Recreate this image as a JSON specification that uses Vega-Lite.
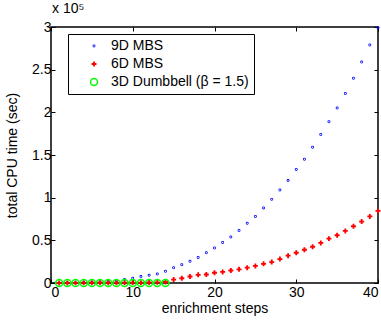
{
  "$schema": "https://vega.github.io/schema/vega-lite/v6.json",
  "width": 327,
  "height": 256,
  "autosize": "none",
  "padding": {"left": 51, "top": 27, "right": 3, "bottom": 37},
  "background": "white",
  "title": {
    "text": "x 10⁵",
    "anchor": "start",
    "frame": "group",
    "fontSize": 14,
    "fontWeight": "normal",
    "font": "Liberation Sans",
    "color": "black",
    "offset": 4,
    "dx": 1
  },
  "config": {
    "font": "Liberation Sans",
    "view": {"stroke": "black", "strokeWidth": 1.5},
    "axis": {
      "labelFont": "Liberation Sans",
      "labelFontSize": 14,
      "labelColor": "black",
      "titleFont": "Liberation Sans",
      "titleFontSize": 14,
      "titleFontWeight": "normal",
      "titleColor": "black",
      "grid": false,
      "domain": false,
      "tickColor": "black",
      "tickSize": -4,
      "tickWidth": 1
    }
  },
  "data": {
    "values": [
      {"step": 1, "series": "9D MBS", "cpu_sec": 100},
      {"step": 2, "series": "9D MBS", "cpu_sec": 200},
      {"step": 3, "series": "9D MBS", "cpu_sec": 300},
      {"step": 4, "series": "9D MBS", "cpu_sec": 500},
      {"step": 5, "series": "9D MBS", "cpu_sec": 800},
      {"step": 6, "series": "9D MBS", "cpu_sec": 1200},
      {"step": 7, "series": "9D MBS", "cpu_sec": 1800},
      {"step": 8, "series": "9D MBS", "cpu_sec": 2700},
      {"step": 9, "series": "9D MBS", "cpu_sec": 4000},
      {"step": 10, "series": "9D MBS", "cpu_sec": 5600},
      {"step": 11, "series": "9D MBS", "cpu_sec": 7500},
      {"step": 12, "series": "9D MBS", "cpu_sec": 9200},
      {"step": 13, "series": "9D MBS", "cpu_sec": 10500},
      {"step": 14, "series": "9D MBS", "cpu_sec": 13800},
      {"step": 15, "series": "9D MBS", "cpu_sec": 17800},
      {"step": 16, "series": "9D MBS", "cpu_sec": 21300},
      {"step": 17, "series": "9D MBS", "cpu_sec": 25500},
      {"step": 18, "series": "9D MBS", "cpu_sec": 30000},
      {"step": 19, "series": "9D MBS", "cpu_sec": 35400},
      {"step": 20, "series": "9D MBS", "cpu_sec": 41000},
      {"step": 21, "series": "9D MBS", "cpu_sec": 47500},
      {"step": 22, "series": "9D MBS", "cpu_sec": 54000},
      {"step": 23, "series": "9D MBS", "cpu_sec": 61500},
      {"step": 24, "series": "9D MBS", "cpu_sec": 70000},
      {"step": 25, "series": "9D MBS", "cpu_sec": 78000},
      {"step": 26, "series": "9D MBS", "cpu_sec": 88000},
      {"step": 27, "series": "9D MBS", "cpu_sec": 98000},
      {"step": 28, "series": "9D MBS", "cpu_sec": 109000},
      {"step": 29, "series": "9D MBS", "cpu_sec": 120000},
      {"step": 30, "series": "9D MBS", "cpu_sec": 133000},
      {"step": 31, "series": "9D MBS", "cpu_sec": 145000},
      {"step": 32, "series": "9D MBS", "cpu_sec": 159000},
      {"step": 33, "series": "9D MBS", "cpu_sec": 174000},
      {"step": 34, "series": "9D MBS", "cpu_sec": 189000},
      {"step": 35, "series": "9D MBS", "cpu_sec": 205000},
      {"step": 36, "series": "9D MBS", "cpu_sec": 222000},
      {"step": 37, "series": "9D MBS", "cpu_sec": 240000},
      {"step": 38, "series": "9D MBS", "cpu_sec": 259000},
      {"step": 39, "series": "9D MBS", "cpu_sec": 279000},
      {"step": 40, "series": "9D MBS", "cpu_sec": 299000},
      {"step": 1, "series": "6D MBS", "cpu_sec": 50},
      {"step": 2, "series": "6D MBS", "cpu_sec": 100},
      {"step": 3, "series": "6D MBS", "cpu_sec": 150},
      {"step": 4, "series": "6D MBS", "cpu_sec": 200},
      {"step": 5, "series": "6D MBS", "cpu_sec": 250},
      {"step": 6, "series": "6D MBS", "cpu_sec": 300},
      {"step": 7, "series": "6D MBS", "cpu_sec": 350},
      {"step": 8, "series": "6D MBS", "cpu_sec": 400},
      {"step": 9, "series": "6D MBS", "cpu_sec": 450},
      {"step": 10, "series": "6D MBS", "cpu_sec": 500},
      {"step": 11, "series": "6D MBS", "cpu_sec": 400},
      {"step": 12, "series": "6D MBS", "cpu_sec": 600},
      {"step": 13, "series": "6D MBS", "cpu_sec": 800},
      {"step": 14, "series": "6D MBS", "cpu_sec": 1200},
      {"step": 15, "series": "6D MBS", "cpu_sec": 4000},
      {"step": 16, "series": "6D MBS", "cpu_sec": 5600},
      {"step": 17, "series": "6D MBS", "cpu_sec": 7600},
      {"step": 18, "series": "6D MBS", "cpu_sec": 9600},
      {"step": 19, "series": "6D MBS", "cpu_sec": 10000},
      {"step": 20, "series": "6D MBS", "cpu_sec": 12000},
      {"step": 21, "series": "6D MBS", "cpu_sec": 13000},
      {"step": 22, "series": "6D MBS", "cpu_sec": 14600},
      {"step": 23, "series": "6D MBS", "cpu_sec": 16000},
      {"step": 24, "series": "6D MBS", "cpu_sec": 18000},
      {"step": 25, "series": "6D MBS", "cpu_sec": 20000},
      {"step": 26, "series": "6D MBS", "cpu_sec": 22500},
      {"step": 27, "series": "6D MBS", "cpu_sec": 24500},
      {"step": 28, "series": "6D MBS", "cpu_sec": 28000},
      {"step": 29, "series": "6D MBS", "cpu_sec": 32000},
      {"step": 30, "series": "6D MBS", "cpu_sec": 35500},
      {"step": 31, "series": "6D MBS", "cpu_sec": 39000},
      {"step": 32, "series": "6D MBS", "cpu_sec": 42500},
      {"step": 33, "series": "6D MBS", "cpu_sec": 47000},
      {"step": 34, "series": "6D MBS", "cpu_sec": 52000},
      {"step": 35, "series": "6D MBS", "cpu_sec": 56000},
      {"step": 36, "series": "6D MBS", "cpu_sec": 61000},
      {"step": 37, "series": "6D MBS", "cpu_sec": 66500},
      {"step": 38, "series": "6D MBS", "cpu_sec": 72000},
      {"step": 39, "series": "6D MBS", "cpu_sec": 78000},
      {"step": 40, "series": "6D MBS", "cpu_sec": 84500},
      {"step": 1, "series": "3D Dumbbell (β = 1.5)", "cpu_sec": 10},
      {"step": 2, "series": "3D Dumbbell (β = 1.5)", "cpu_sec": 20},
      {"step": 3, "series": "3D Dumbbell (β = 1.5)", "cpu_sec": 30},
      {"step": 4, "series": "3D Dumbbell (β = 1.5)", "cpu_sec": 40},
      {"step": 5, "series": "3D Dumbbell (β = 1.5)", "cpu_sec": 50},
      {"step": 6, "series": "3D Dumbbell (β = 1.5)", "cpu_sec": 60},
      {"step": 7, "series": "3D Dumbbell (β = 1.5)", "cpu_sec": 70},
      {"step": 8, "series": "3D Dumbbell (β = 1.5)", "cpu_sec": 80},
      {"step": 9, "series": "3D Dumbbell (β = 1.5)", "cpu_sec": 90},
      {"step": 10, "series": "3D Dumbbell (β = 1.5)", "cpu_sec": 100},
      {"step": 11, "series": "3D Dumbbell (β = 1.5)", "cpu_sec": 110},
      {"step": 12, "series": "3D Dumbbell (β = 1.5)", "cpu_sec": 120},
      {"step": 13, "series": "3D Dumbbell (β = 1.5)", "cpu_sec": 130},
      {"step": 14, "series": "3D Dumbbell (β = 1.5)", "cpu_sec": 140}
    ]
  },
  "layer": [
    {
      "mark": {"type": "point", "filled": false, "opacity": 1},
      "encoding": {
        "x": {
          "field": "step",
          "type": "quantitative",
          "scale": {"domain": [0, 40], "nice": false, "zero": false},
          "axis": {"values": [0, 10, 20, 30, 40], "title": "enrichment steps", "labelPadding": 6, "titlePadding": 2}
        },
        "y": {
          "field": "cpu_sec",
          "type": "quantitative",
          "scale": {"domain": [0, 300000], "nice": false},
          "axis": {
            "values": [0, 50000, 100000, 150000, 200000, 250000, 300000],
            "labelExpr": "datum.value / 100000 + ''",
            "title": "total CPU time (sec)",
            "labelPadding": 4,
            "titlePadding": 12
          }
        },
        "color": {
          "field": "series",
          "type": "nominal",
          "scale": {
            "domain": ["9D MBS", "6D MBS", "3D Dumbbell (β = 1.5)"],
            "range": ["#0000ff", "#ff0000", "#00ff00"]
          },
          "legend": {
            "orient": "none",
            "legendX": 17,
            "legendY": 7,
            "title": null,
            "strokeColor": "black",
            "fillColor": "white",
            "padding": 5,
            "rowPadding": 4,
            "symbolOffset": 14,
            "labelOffset": 10,
            "labelFontSize": 14,
            "labelFont": "Liberation Sans",
            "labelColor": "black"
          }
        },
        "shape": {
          "field": "series",
          "type": "nominal",
          "scale": {
            "domain": ["9D MBS", "6D MBS", "3D Dumbbell (β = 1.5)"],
            "range": ["circle", "M-1,0L1,0M0,-1L0,1", "circle"]
          }
        },
        "size": {
          "field": "series",
          "type": "nominal",
          "scale": {
            "domain": ["9D MBS", "6D MBS", "3D Dumbbell (β = 1.5)"],
            "range": [0.6, 49, 60]
          }
        },
        "strokeWidth": {
          "field": "series",
          "type": "nominal",
          "scale": {
            "domain": ["9D MBS", "6D MBS", "3D Dumbbell (β = 1.5)"],
            "range": [2.2, 1.5, 1.2]
          }
        }
      }
    },
    {
      "mark": {"type": "point", "opacity": 0},
      "encoding": {
        "x": {
          "field": "step",
          "type": "quantitative",
          "axis": {"orient": "top", "values": [0, 10, 20, 30, 40], "labels": false, "title": null}
        },
        "y": {
          "field": "cpu_sec",
          "type": "quantitative",
          "axis": {"orient": "right", "values": [0, 50000, 100000, 150000, 200000, 250000, 300000], "labels": false, "title": null}
        }
      }
    }
  ],
  "resolve": {"axis": {"x": "independent", "y": "independent"}}
}
